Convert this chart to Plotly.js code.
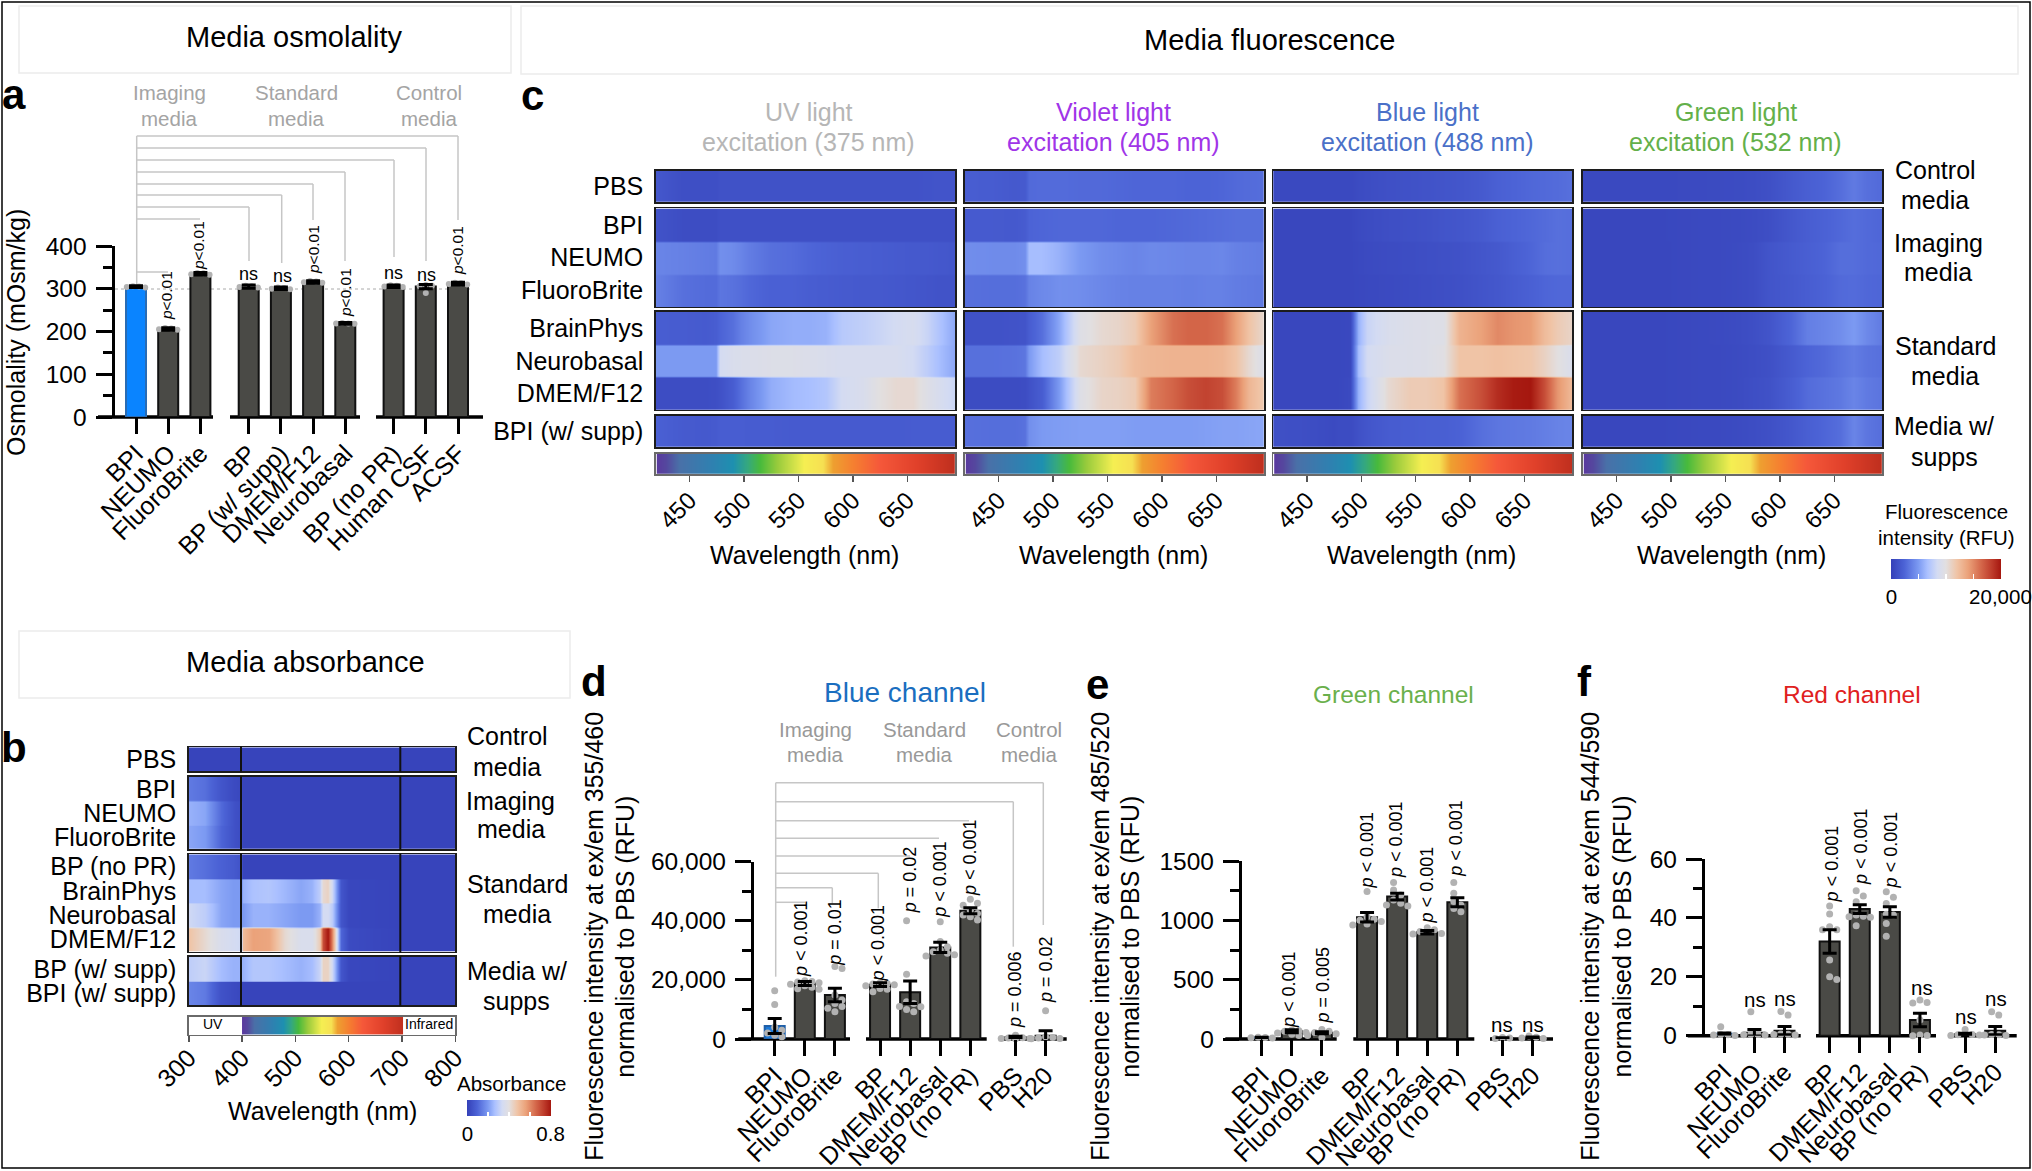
<!DOCTYPE html>
<html><head><meta charset="utf-8">
<script src="https://cdn.plot.ly/plotly-3.0.1.min.js"></script>
<style>html,body{margin:0;padding:0;background:#fff}#chart{width:2032px;height:1171px}</style>
</head><body><div id="chart"></div>
<script>
// ---------- panel a: osmolality ----------
const osmoNames = ['BPI','NEUMO','FluoroBrite','BP','BP (w/ supp)','DMEM/F12','Neurobasal','BP (no PR)','Human CSF','ACSF'];
const osmoSlots = [0,1,2,3.5,4.5,5.5,6.5,8,9,10];
const osmoMeans = [305,206,335,305,301,316,219,306,305,312];
const osmoErrs  = [2,3,3,4,3,3,2,3,5,3];
const osmoPoints = [[306,305,304,303],[208,207,205,204],[337,336,334,333],[307,306,304,303],[303,302,300,299],[318,317,315,314],[220,219,219,218],[308,307,305,304],[309,307,306,290],[314,313,311,310]];
const osmoTicks = [0,100,200,300,400];
const osmoTickText = ['0','100','200','300','400'];

// ---------- panels d, e, f ----------
const plateNames = ['BPI','NEUMO','FluoroBrite','BP','DMEM/F12','Neurobasal','BP (no PR)','PBS','H20'];
const plateSlots = [0,1,2,3.5,4.5,5.5,6.5,8,9];
const blueMeans = [4400,18800,14900,18400,15800,31000,43400,700,1100];
const blueErrs  = [2500,700,2300,600,3800,1700,1000,200,1700];
const bluePoints = [[16300,11700,4000,3000,2000,1300,800],[19700,19500,19300,19000,18500,18000,17500,17000,16800],[24500,23900,14900,13200,12000,11000,10400,9200],[19000,18800,18600,18400,18000,17100,16800,16000],[40000,21900,12600,12000,11000,10900,10000,9200],[39700,33000,31200,30100,29500,29000,28500,28100],[47300,45900,45300,43600,42500,42000,41400,40300],[1300,400,300,200,200,100],[9600,800,500,300,200,100]];
const blueTicks = [0,20000,40000,60000];
const blueTickText = ['0','20,000','40,000','60,000'];

const greenMeans = [12,65,53,1025,1200,900,1152,8,12];
const greenErrs  = [3,12,8,40,28,15,38,3,5];
const greenPoints = [[15,12,10,8],[75,70,65,55,50,40,30],[80,65,55,45,30,10],[1242,1030,1010,1000,990,970,960],[1318,1256,1214,1172,1144,1130,1120],[938,920,905,890,885],[1318,1228,1158,1130,1100,1073],[12,8,5],[25,15,8,5]];
const greenTicks = [0,500,1000,1500];
const greenTickText = ['0','500','1000','1500'];

const redMeans = [0.7,1,1.7,32,43,42,5.3,0.5,1.7];
const redErrs  = [0.2,1.1,1.4,4,1.5,1.8,2.3,0.3,1.4];
const redPoints = [[3,0.4,0.3,0.2,0.1],[8.1,0.5,0.4,0.3,0.2],[8.2,7,0.6,0.5,0.4,0.2],[44,41.3,37,36,36,25.7,20,19.1],[49.2,47.4,45.5,41,40.6,40.4,40.2,37.3],[48.9,47,44.9,41.2,41,38.1,33.8],[12.1,11.3,11.1,5.3,0.2,0.1,0],[2.1,0.4,0.3,0.2,0.1],[8.1,7,0.4,0.3,0.2,0.1]];
const redTicks = [0,20,40,60];
const redTickText = ['0','20','40','60'];

// ---------- panel b: absorbance ----------
const absWave = [300,330,360,385,399,401,420,450,480,510,530,545,552,560,568,575,585,600,700,800];
const absControl = [[0.01,0.01,0.01,0.01,0.01,0.01,0.01,0.01,0.01,0.01,0.01,0.01,0.01,0.01,0.01,0.01,0.01,0.01,0.01,0.01]];
const absImaging = [
 [0.14,0.12,0.06,0.03,0.02,0.01,0.01,0.01,0.01,0.01,0.01,0.01,0.01,0.01,0.01,0.01,0.01,0.01,0.01,0.01],
 [0.24,0.22,0.11,0.05,0.03,0.01,0.01,0.01,0.01,0.01,0.01,0.01,0.01,0.01,0.01,0.01,0.01,0.01,0.01,0.01],
 [0.22,0.20,0.10,0.05,0.03,0.01,0.01,0.01,0.01,0.01,0.01,0.01,0.01,0.01,0.01,0.01,0.01,0.01,0.01,0.01]];
const absStandard = [
 [0.14,0.12,0.09,0.07,0.05,0.01,0.01,0.01,0.01,0.01,0.01,0.01,0.01,0.01,0.01,0.01,0.01,0.01,0.01,0.01],
 [0.26,0.26,0.22,0.20,0.20,0.24,0.27,0.28,0.25,0.22,0.24,0.30,0.42,0.44,0.34,0.22,0.06,0.02,0.01,0.01],
 [0.33,0.30,0.22,0.20,0.20,0.20,0.24,0.24,0.22,0.20,0.20,0.24,0.34,0.34,0.30,0.20,0.06,0.02,0.01,0.01],
 [0.48,0.42,0.36,0.34,0.33,0.50,0.56,0.55,0.42,0.36,0.36,0.46,0.70,0.80,0.62,0.40,0.10,0.03,0.01,0.01]];
const absSupp = [
 [0.30,0.32,0.26,0.24,0.24,0.24,0.28,0.28,0.26,0.24,0.26,0.32,0.44,0.44,0.34,0.22,0.06,0.02,0.01,0.01],
 [0.16,0.14,0.05,0.03,0.02,0.01,0.01,0.01,0.01,0.01,0.01,0.01,0.01,0.01,0.01,0.01,0.01,0.01,0.01,0.01]];
const absLabels = [['PBS'],['BPI','NEUMO','FluoroBrite'],['BP (no PR)','BrainPhys','Neurobasal','DMEM/F12'],['BP (w/ supp)','BPI (w/ supp)']];
const absTicks = [300,400,500,600,700,800];

// ---------- panel c: fluorescence ----------
const fluorWave = [420,445,465,474,478,490,497,505,525,545,560,575,590,610,625,640,655,668,680,694];
const fluorTicks = [450,500,550,600,650];
const fluorLabels = [['PBS'],['BPI','NEUMO','FluoroBrite'],['BrainPhys','Neurobasal','DMEM/F12'],['BPI (w/ supp)']];

const uvControl = [[1600,1000,1000,1000,1200,1200,1200,1200,1200,1200,1200,1200,1200,1200,1200,1200,1200,1300,1400,1400]];
const uvImaging = [
 [1300,900,900,900,1100,1100,1100,1100,1100,1100,1100,1100,1100,1100,1100,1100,1100,1100,1100,1100],
 [4000,3800,3600,3500,4500,4300,4000,3600,3000,2800,2500,2300,2100,2000,1900,1800,1700,1700,1600,1500],
 [3800,3000,2800,2800,3300,3100,2900,2600,2200,2200,2000,1900,1800,1700,1700,1600,1500,1400,1300,1300]];
const uvStandard = [
 [2000,1900,1800,2000,2400,3000,3800,4400,5500,5800,5800,6000,7200,7600,8000,8500,8800,8000,6800,5500],
 [5000,5000,5000,5000,8500,9000,9100,9200,9400,9400,9200,9000,8800,8800,8800,8800,8400,7500,6500,5500],
 [900,900,900,1000,1200,2000,3000,4000,5800,6400,6600,7000,8500,9000,10000,10500,10500,9500,8800,8000]];
const uvSupp = [[2200,1800,1700,1800,2000,2000,2000,1900,1900,1800,1800,1800,1800,1800,1800,1800,1900,1900,1900,1900]];

const violetControl = [[2000,1900,1700,1800,2700,2800,2800,2800,2700,2700,2600,2500,2500,2500,2400,2400,2500,2700,2800,2900]];
const violetImaging = [
 [1800,1800,1700,1900,2400,2500,2550,2600,2600,2600,2500,2500,2500,2600,2700,2800,2900,3000,3000,3000],
 [4400,4300,4300,4500,6500,6500,6300,6000,5000,4400,4200,4000,4200,4100,4000,4000,4100,3800,3700,3600],
 [3000,2900,2900,3100,3900,4200,4300,4500,4400,4100,3900,3800,3800,3800,3700,3800,3800,3600,3500,3400]];
const violetStandard = [
 [1200,1200,1300,1400,2000,3000,4200,5500,9500,10500,10800,11500,14000,16000,16500,16500,16000,14000,12000,10500],
 [3000,3000,3100,3300,5000,6500,7000,7500,10500,11000,11500,12500,12800,13000,13000,13000,12800,12000,10500,9200],
 [800,800,800,900,1200,2000,3400,5000,9500,10800,11000,11500,15500,16500,17500,18000,17500,15500,12800,11500]];
const violetSupp = [[3000,2900,2900,3100,4500,5000,5050,5100,5200,5200,5200,5100,5100,5100,5100,5200,5300,5300,5400,5500]];

const blueControl = [[600,600,600,600,600,600,800,900,1100,1200,1300,1400,1500,1800,2200,2400,2600,2700,2800,3000]];
const blueImaging = [
 [500,500,500,500,500,500,700,800,1000,1100,1200,1400,1500,1800,2200,2400,2600,2800,3000,2900],
 [500,500,500,500,500,500,600,700,800,900,1000,1100,1200,1500,1700,2100,2500,2900,3000,2900],
 [500,500,500,500,500,500,550,600,700,800,900,1000,1100,1400,1600,1900,2200,2500,2600,2600]];
const blueStandard = [
 [500,500,500,500,500,600,6000,8000,9000,9300,9400,9500,13000,14000,15000,14500,14200,12500,11500,10800],
 [500,500,500,500,500,600,6500,8500,9200,9300,9400,9800,12000,12000,12200,12000,11800,11000,10000,9000],
 [500,500,500,500,500,700,6000,8000,10500,11500,11500,12000,16000,17500,19000,19800,20000,17500,14500,12500]];
const blueSupp = [[1100,1000,800,700,800,800,1200,1500,1900,2000,2100,2100,2300,3000,3300,3400,3500,3700,3900,4000]];

const greenControl = [[600,600,600,600,600,600,620,650,700,750,800,900,1100,1700,2100,2400,2900,3500,3000,2700]];
const greenImaging = [
 [500,500,500,500,500,500,520,550,600,650,700,800,1000,1600,2000,2300,2600,2900,2700,2500],
 [500,500,500,500,500,500,500,550,600,650,750,900,1400,1800,2100,2400,2900,2900,2700,2600],
 [500,500,500,500,500,500,500,550,600,650,750,900,1400,1700,2000,2300,2700,2800,2600,2500]];
const greenStandard = [
 [500,500,500,500,500,500,520,550,600,700,800,1000,1400,2500,3700,4000,4400,5000,4200,3500],
 [500,500,500,500,500,500,520,550,600,650,750,900,1100,1800,2400,2700,3200,3600,3200,3000],
 [500,500,500,500,500,500,520,550,600,650,750,1000,1200,2000,2800,3100,3400,4000,3500,3200]];
const greenSupp = [[500,500,500,500,500,500,520,550,600,650,750,900,1100,1600,2100,2500,2900,4000,3300,2900]];

const spectrumWave  = [420,428,440,470,490,503,515,530,555,572,582,600,625,660,694];
const spectrumColor = ['#5a3a9e','#55489e','#4a70a8','#3080b0','#1e90b0','#35a880','#48ba3c','#98cb3c','#f5ef52','#f6e052','#eea030','#f58030','#f5583a','#e0402a','#bf2f1e'];
const heatStops = [0,0.12,0.25,0.33,0.42,0.5,0.6,0.7,0.82,0.92,1];
const heatColors = ['#3440b8','#4c63d6','#7c9af2','#aac0ff','#d3dbf3','#e2dfe0','#f0c4a6','#eba27a','#d4674a','#bd3a2a','#a5170f'];

// ---------- helpers ----------
const W = 2032, H = 1171, FONT = '"Liberation Sans", Arial, sans-serif';
const data = [];
const layout = {width:W,height:H,margin:{l:0,r:0,t:0,b:0},paper_bgcolor:'#fff',plot_bgcolor:'rgba(0,0,0,0)',
  showlegend:false,font:{family:FONT,color:'#000',size:24},annotations:[],shapes:[],bargap:0};
const heatScale = heatStops.map((s,i)=>[s,heatColors[i]]);
let axisCount = 0;
function addAxes(x0,x1,y0,y1,xo,yo){
  axisCount++;
  const sx = axisCount===1?'':axisCount;
  layout['xaxis'+sx] = Object.assign({domain:[x0/W,x1/W],anchor:'y'+sx,showgrid:false,zeroline:false},xo);
  layout['yaxis'+sx] = Object.assign({domain:[1-y1/H,1-y0/H],anchor:'x'+sx,showgrid:false,zeroline:false},yo);
  return {xaxis:'x'+sx,yaxis:'y'+sx};
}
function text(t,x,y,size,color,opt){
  layout.annotations.push(Object.assign({text:t,xref:'paper',yref:'paper',x:x/W,y:1-y/H,showarrow:false,
    xanchor:'center',yanchor:'middle',font:{family:FONT,size:size,color:color||'#000'},borderpad:0},opt||{}));
}
function line(x0,y0,x1,y1,color,width,dash,layer){
  layout.shapes.push({type:'line',xref:'paper',yref:'paper',x0:x0/W,x1:x1/W,y0:1-y0/H,y1:1-y1/H,
    line:{color:color,width:width,dash:dash||'solid'},layer:layer||'below'});
}
function rect(x0,y0,x1,y1,color,width){
  layout.shapes.push({type:'rect',xref:'paper',yref:'paper',x0:x0/W,x1:x1/W,y0:1-y0/H,y1:1-y1/H,
    line:{color:color,width:width},fillcolor:'rgba(0,0,0,0)',layer:'below'});
}
function swarm(vals,pxPerVal,spacing,diam){
  const placed=[];
  vals.forEach(v=>{
    const py=v*pxPerVal; let best=0,bestD=-1;
    for(const k of [0,1,-1,2,-2]){
      const ox=k*diam*1.02;
      let d=Infinity;
      placed.forEach(p=>{d=Math.min(d,Math.hypot(p[0]-ox,p[1]-py));});
      if(d>=diam*0.9){best=ox;bestD=d;break;}
      if(d>bestD){bestD=d;best=ox;}
    }
    placed.push([best,py]);
  });
  // keep the cluster centred on its bar
  const lo=Math.min(...placed.map(p=>p[0])),hi=Math.max(...placed.map(p=>p[0])),mid=(lo+hi)/2;
  return placed.map(p=>(p[0]-mid)/spacing);
}
function barPanel(p){
  const ax = addAxes(p.left,p.right,p.top,p.bottom,
    {range:[(p.left-p.c0)/p.sp,(p.right-p.c0)/p.sp],tickmode:'array',tickvals:p.slots,ticktext:p.names,tickangle:-45,
     ticks:'outside',ticklen:16,tickwidth:3,tickcolor:'#000',showline:false,tickfont:{size:25},ticklabelstandoff:-5},
    {range:[0,p.max],tickmode:'array',tickvals:p.ticks,ticktext:p.tickText,ticks:'outside',ticklen:16,tickwidth:3,tickcolor:'#000',
     showline:true,linecolor:'#000',linewidth:3.5,tickfont:{size:24.5},ticklabelstandoff:4,
     minor:{tickmode:'linear',tick0:0,dtick:p.minor,ticks:'outside',ticklen:9,tickwidth:3,tickcolor:'#000'}});
  data.push(Object.assign({type:'bar',x:p.slots,y:p.means,width:20/p.sp,hoverinfo:'skip',
    marker:{color:p.means.map((m,i)=>i===0?p.first:'#4a4a46'),line:{color:p.means.map((m,i)=>i===0?p.firstLine:'#111'),width:2}}},ax));
  const px=[],py=[],pxPerVal=(p.bottom-p.top)/p.max;
  p.points.forEach((vals,i)=>{
    const off=swarm(vals,pxPerVal,p.sp,p.dot);
    vals.forEach((v,j)=>{px.push(p.slots[i]+off[j]);py.push(v);});
  });
  data.push(Object.assign({type:'scatter',mode:'markers',x:px,y:py,cliponaxis:false,hoverinfo:'skip',
    marker:{color:'#b2b2b2',size:p.dot}},ax));
  data.push(Object.assign({type:'scatter',mode:'markers',x:p.slots,y:p.means,cliponaxis:false,hoverinfo:'skip',
    marker:{size:1,opacity:0},error_y:{type:'data',array:p.errs,visible:true,color:'#000',thickness:3,width:7}},ax));
  p.base.forEach(b=>line(b[0],p.bottom,b[1],p.bottom,'#000',3.5));
}
function heat(rows,wave,box,labels,caxis,xrange){
  const y=[],z=[];
  rows.forEach((r,i)=>{y.push(i-0.47,i+0.47);z.push(r,r);});
  const ax = addAxes(box[0]+0.75,box[1]-0.75,box[2]+0.75,box[3]-0.75,
    {range:xrange,showline:true,mirror:true,linecolor:'#1c1c1c',linewidth:1.5,ticks:'',showticklabels:false},
    {range:[rows.length-0.5,-0.5],showline:true,mirror:true,linecolor:'#1c1c1c',linewidth:1.5,ticks:'',
     tickmode:'array',tickvals:labels?labels.map((l,i)=>i):[],ticktext:labels||[],showticklabels:!!labels,
     tickfont:{size:25},ticklabelstandoff:6});
  data.push(Object.assign({type:'heatmap',x:wave,y:y,z:z,zsmooth:'best',coloraxis:caxis,hoverinfo:'skip'},ax));
  return ax;
}
function spectrum(box,wave,xrange,ticks,font,standoff){
  const lo=wave[0],hi=wave[wave.length-1];
  const scale=wave.map((w,i)=>[(w-lo)/(hi-lo),spectrumColor[i]]);
  const ax = addAxes(box[0]+0.75,box[1]-0.75,box[2]+0.75,box[3]-0.75,
    {range:xrange,showline:true,mirror:true,linecolor:'#6a6a6a',linewidth:1.5,ticks:'outside',ticklen:6,tickwidth:1.5,tickcolor:'#555',
     tickmode:'array',tickvals:ticks,ticktext:ticks.map(String),tickangle:-45,tickfont:{size:font},ticklabelstandoff:standoff},
    {range:[0,1],showline:true,mirror:true,linecolor:'#6a6a6a',linewidth:1.5,ticks:'',showticklabels:false});
  // edge columns repeat the ends so the coloured band stops at its own limits
  const xs=[lo-0.02].concat(wave,[hi+0.02]);
  const zs=[lo].concat(wave,[hi]);
  data.push(Object.assign({type:'heatmap',x:xs,y:[0,1],z:[zs,zs],zsmooth:'best',colorscale:scale,showscale:false,zmin:lo,zmax:hi,hoverinfo:'skip'},ax));
}

// ---------- frame and headers ----------
rect(2,2,2030,1168,'#000',1.5);
rect(19,6,511,73,'#ececec',1.5);
rect(521,6,2018,74,'#ececec',1.5);
rect(19,631,570,698,'#ececec',1.5);
text('Media osmolality',294,37,29);
text('Media fluorescence',1269,40,29);
text('Media absorbance',305,662,29);
[['a',14,95],['b',14,748],['c',532,96],['d',594,681],['e',1097,684],['f',1584,681]].forEach(l=>text('<b>'+l[0]+'</b>',l[1],l[2],42));

// ---------- panel a ----------
barPanel({left:115,right:483,top:246,bottom:417,c0:136,sp:32.2,slots:osmoSlots,names:osmoNames,means:osmoMeans,errs:osmoErrs,points:osmoPoints,
  max:400,ticks:osmoTicks,tickText:osmoTickText,minor:50,first:'#0a84ff',firstLine:'#2a6cb4',dot:6,
  base:[[98,213],[230,360],[376,483]]});
line(115,289,470,289,'#aaa',1,'dot');
text('Osmolality (mOsm/kg)',16,333,25,'#000',{textangle:-90});
const GRAY='#a4a4a4';
[['Imaging',169],['Standard',296],['Control',429]].forEach(g=>{text(g[0],g[1],93,20.5,GRAY);text('media',g[1],118,20.5,GRAY);});
const B='#c6c6c6';
line(136.7,136,136.7,285,B,1.5);
[[136,458,220],[148,426,261],[160,394,257],[172,345,261],[184,313,220],[195,281.7,263],[207,249,261],[219,200,null],[272,168,null]].forEach(r=>{
  line(136.7,r[0],r[1],r[0],B,1.5); if(r[2]) line(r[1],r[0],r[1],r[2],B,1.5);});
const P='<i>p</i>';
[[166,296],[199,246],[313,250],[345,293],[457,251]].forEach(q=>text(P+'&lt;0.01',q[0],q[1],15.5,'#000',{textangle:-90}));
[[248,274],[282,276],[393,273],[426,275]].forEach(q=>text('ns',q[0],q[1],18));

// ---------- panel b ----------
const bX=[188,456],bR=[300,800];
heat(absControl,absWave,[bX[0],bX[1],746.6,771.8],absLabels[0],'coloraxis2',bR);
heat(absImaging,absWave,[bX[0],bX[1],776,850],absLabels[1],'coloraxis2',bR);
heat(absStandard,absWave,[bX[0],bX[1],853.6,952.6],absLabels[2],'coloraxis2',bR);
heat(absSupp,absWave,[bX[0],bX[1],956,1006],absLabels[3],'coloraxis2',bR);
spectrum([bX[0],bX[1],1015.8,1035.5],spectrumWave.map(w=>400+(w-420)*302/274),bR,absTicks,25,-9);
[[746.6,771.8],[776,850],[853.6,952.6],[956,1006]].forEach(g=>{
  line(241,g[0],241,g[1],'#111',2,null,'above');line(400.3,g[0],400.3,g[1],'#111',2,null,'above');});
text('UV',212.7,1024,14); text('Infrared',429,1024,14);
text('Wavelength (nm)',322,1111,25);
[['Control',507,736],['media',507,767],['Imaging',510.5,801],['media',510.5,829],['Standard',517,884],['media',517,914],['Media w/',517,971],['supps',516.5,1001]].forEach(t=>text(t[0],t[1],t[2],25));
text('Absorbance',511.6,1083,20.5);

// ---------- panel c ----------
const cCols=[[655,956],[964,1265],[1272.4,1573],[1582,1883]];
const cRows=[[170,203],[207.7,307.7],[311,410.7],[415,448]];
const cR=[419,694];
[[uvControl,uvImaging,uvStandard,uvSupp],[violetControl,violetImaging,violetStandard,violetSupp],
 [blueControl,blueImaging,blueStandard,blueSupp],[greenControl,greenImaging,greenStandard,greenSupp]].forEach((panel,k)=>{
  panel.forEach((rows,g)=>heat(rows,fluorWave,[cCols[k][0],cCols[k][1],cRows[g][0],cRows[g][1]],k===0?fluorLabels[g]:null,'coloraxis',cR));
  spectrum([cCols[k][0],cCols[k][1],453,475],spectrumWave,cR,fluorTicks,24,-5);
  text('Wavelength (nm)',(cCols[k][0]+cCols[k][1])/2-1,555,25);
});
[['UV light','excitation (375 nm)',808.5,'#b6b6b6'],['Violet light','excitation (405 nm)',1113,'#a035e8'],
 ['Blue light','excitation (488 nm)',1427,'#4a70c8'],['Green light','excitation (532 nm)',1735.5,'#64b04a']].forEach(t=>{
  text(t[0],t[2],112,25,t[3]);text(t[1],t[2],142,25,t[3]);});
[['Control',1935,170],['media',1935,199.6],['Imaging',1938,242.5],['media',1938,271.8],['Standard',1945,346],['media',1945,376],['Media w/',1944,425.7],['supps',1944,457]].forEach(t=>text(t[0],t[1],t[2],25));
text('Fluorescence',1946,512,20.5);text('intensity (RFU)',1946,537,20.5);

layout.coloraxis={cmin:0,cmax:20000,colorscale:heatScale,colorbar:{orientation:'h',x:1891/W,xanchor:'left',y:1-558.6/H,yanchor:'top',
  len:110,lenmode:'pixels',thickness:19.5,thicknessmode:'pixels',outlinewidth:0,xpad:0,ypad:0,
  tickmode:'array',tickvals:[100,5000,10000,15000,19900],ticktext:['0','','','','20,000'],ticks:'inside',ticklen:5,tickwidth:1.5,tickcolor:'#fff',tickfont:{size:20.5,family:FONT}}};
layout.coloraxis2={cmin:0,cmax:0.8,colorscale:heatScale,colorbar:{orientation:'h',x:467/W,xanchor:'left',y:1-1100.3/H,yanchor:'top',
  len:83.5,lenmode:'pixels',thickness:15.7,thicknessmode:'pixels',outlinewidth:0,xpad:0,ypad:0,
  tickmode:'array',tickvals:[0.004,0.2,0.4,0.6,0.796],ticktext:['0','','','','0.8'],ticks:'inside',ticklen:4,tickwidth:1.5,tickcolor:'#fff',tickfont:{size:20.5,family:FONT}}};

// ---------- panel d ----------
barPanel({left:754.3,right:1067,top:861.7,bottom:1039,c0:774.7,sp:30.1,slots:plateSlots,names:plateNames,means:blueMeans,errs:blueErrs,points:bluePoints,
  max:60000,ticks:blueTicks,tickText:blueTickText,minor:10000,first:'#1a78d8',firstLine:'#1f5fa8',dot:7,
  base:[[738.3,850],[866,986.7],[1003,1066.7]]});
text('Fluorescence intensity at ex/em 355/460',594,936.7,25,'#000',{textangle:-90});
text('normalised to PBS (RFU)',625,936.7,25,'#000',{textangle:-90});
text('Blue channel',905,692.5,28,'#1a6ec0');
[['Imaging',815],['Standard',924],['Control',1029]].forEach(g=>{text(g[0],g[1],729,20.5,'#999');text('media',g[1],754,20.5,'#999');});
line(775.7,782.7,775.7,976.7,B,1.5);
[[782.7,1043.3,925],[801.7,1013.3,946.7],[820.7,969,null],[838.3,939,null],[856,910,null],[873.3,878.3,908.3],[887.7,832.3,903.3],[902.3,805,null]].forEach(r=>{
  line(775.7,r[0],r[1],r[0],B,1.5); if(r[2]) line(r[1],r[0],r[1],r[2],B,1.5);});
const lt=P+' &lt; 0.001';
[[lt,801.7,938.3],[P+' = 0.01',834.3,932.5],[lt,878.3,943.3],[P+' = 0.02',910,880.3],[lt,940,879.7],[lt,969.3,857.7],[P+' = 0.006',1015,990],[P+' = 0.02',1045.3,969.7]]
  .forEach(q=>text(q[0],q[1],q[2],18,'#000',{textangle:-90}));

// ---------- panel e ----------
barPanel({left:1242.3,right:1553,top:861,bottom:1039,c0:1261.7,sp:30.1,slots:plateSlots,names:plateNames,means:greenMeans,errs:greenErrs,points:greenPoints,
  max:1500,ticks:greenTicks,tickText:greenTickText,minor:250,first:'#1a78d8',firstLine:'#1f5fa8',dot:7,
  base:[[1225.3,1336.7],[1353.3,1474.3],[1490,1553]]});
text('Fluorescence intensity at ex/em 485/520',1100,936.7,25,'#000',{textangle:-90});
text('normalised to PBS (RFU)',1130,936.7,25,'#000',{textangle:-90});
text('Green channel',1393,694,24.5,'#6ab04c');
[[lt,1288.3,989.7],[P+' = 0.005',1323.3,985.3],[lt,1367.3,850.3],[lt,1396.7,839.3],[lt,1426.7,884.7],[lt,1456,838.7]]
  .forEach(q=>text(q[0],q[1],q[2],18,'#000',{textangle:-90}));
[[1502.3,1024],[1532.7,1024]].forEach(q=>text('ns',q[0],q[1],20.5));

// ---------- panel f ----------
barPanel({left:1705.3,right:2017,top:859,bottom:1035.7,c0:1724.3,sp:30.1,slots:plateSlots,names:plateNames,means:redMeans,errs:redErrs,points:redPoints,
  max:60,ticks:redTicks,tickText:redTickText,minor:10,first:'#1a78d8',firstLine:'#1f5fa8',dot:7,
  base:[[1687.7,1800.7],[1816,1936],[1951.7,2016.7]]});
text('Fluorescence intensity at ex/em 544/590',1590,936.7,25,'#000',{textangle:-90});
text('normalised to PBS (RFU)',1621.7,936.7,25,'#000',{textangle:-90});
text('Red channel',1851.7,694,24.5,'#e02020');
[[1831.7,863.7],[1861.7,846.3],[1890.7,849.7]].forEach(q=>text(lt,q[0],q[1],18,'#000',{textangle:-90}));
[[1754.7,1000],[1784.7,998.3],[1921.7,987.7],[1966,1016],[1996,998.3]].forEach(q=>text('ns',q[0],q[1],20.5));

Plotly.newPlot('chart',data,layout,{displayModeBar:false,staticPlot:true});
</script></body></html>
